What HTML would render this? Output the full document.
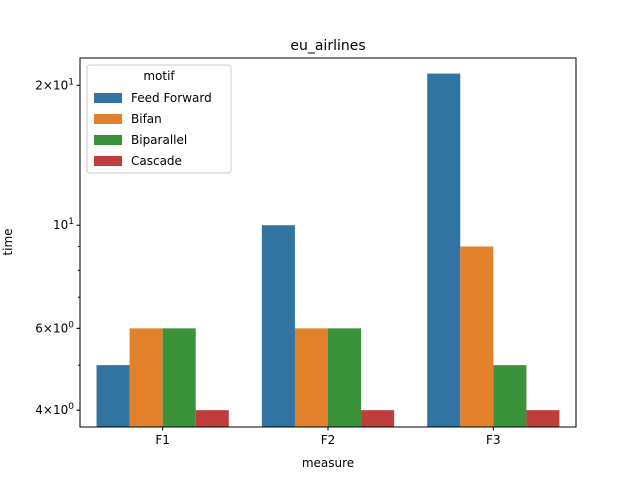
<!DOCTYPE html>
<html><head><meta charset="utf-8"><style>
body{margin:0;background:#fff}
text{font-family:"DejaVu Sans","Liberation Sans",sans-serif;fill:#000}
</style></head><body>
<svg id="chart" width="640" height="480" xmlns="http://www.w3.org/2000/svg">
<rect width="640" height="480" fill="#fff"/>
<text x="328" y="50" font-size="14" text-anchor="middle">eu_airlines</text>
<g id="bars"></g>
<g id="axes"></g>
<text x="328" y="467" font-size="12" text-anchor="middle">measure</text>
<text x="0" y="0" font-size="12" text-anchor="middle" transform="translate(12,242) rotate(-90)">time</text>
<g>
<rect x="87" y="65" width="144" height="108" rx="3" fill="#fff" fill-opacity="0.8" stroke="#ccc"/>
<text x="159" y="80" font-size="12" text-anchor="middle">motif</text>
<g id="legend-items"></g>
</g>
</svg>
<script>
const categories=["F1","F2","F3"];
const seriesNames=["Feed Forward","Bifan","Biparallel","Cascade"];
const feedForward=[5,10,21.2];
const bifan=[6,6,9];
const biparallel=[6,6,5];
const cascade=[4,4,4];
const yTickValues=[4,6,10,20];
const yTickBase=["4\u00d710","6\u00d710","10","2\u00d710"];
const yTickExp=["0","0","1","1"];
const yMinorValues=[4,5,6,7,8,9,20];
const colors=["#3274a1","#e1812c","#3a923a","#c03d3e"];
const series=[feedForward,bifan,biparallel,cascade];
const L=80,R=576,T=58,B=427,yMin=3.68,yMax=22.9;
const NS="http://www.w3.org/2000/svg";
function y(v){return B-(Math.log10(v)-Math.log10(yMin))/(Math.log10(yMax)-Math.log10(yMin))*(B-T);}
const band=(R-L)/categories.length;
function xc(i){return L+band*(i+0.5);}
function mk(tag,attrs,parent){const e=document.createElementNS(NS,tag);for(const k in attrs)e.setAttribute(k,attrs[k]);parent.appendChild(e);return e;}
const bars=document.getElementById('bars');
const bw=band*0.8/series.length;
series.forEach((s,si)=>{s.forEach((v,ci)=>{
 const x0=xc(ci)-band*0.4+si*bw;
 const r=mk('rect',{x:x0,y:y(v),width:bw,height:B-y(v),fill:colors[si]},bars);
 
 
});});
const ax=document.getElementById('axes');
mk('rect',{x:L,y:T,width:R-L,height:B-T,fill:'none',stroke:'#000','stroke-width':1},ax);
categories.forEach((c,i)=>{
 mk('line',{x1:xc(i),x2:xc(i),y1:B,y2:B+3.5,stroke:'#000'},ax);
 const t=mk('text',{x:xc(i),y:B+17,'font-size':12,'text-anchor':'middle'},ax);t.textContent=c;
 
 
});
yMinorValues.forEach(v=>{mk('line',{x1:L-2,x2:L,y1:y(v),y2:y(v),stroke:'#000'},ax);});
yTickValues.forEach((v,i)=>{
 mk('line',{x1:L-3.5,x2:L,y1:y(v),y2:y(v),stroke:'#000'},ax);
 const t=mk('text',{x:L-6,y:y(v)+4,'font-size':12,'text-anchor':'end'},ax);
 
 
 const a=document.createElementNS(NS,'tspan');a.textContent=yTickBase[i];t.appendChild(a);
 const b=document.createElementNS(NS,'tspan');b.setAttribute('font-size','9');b.setAttribute('dy','-5');b.textContent=yTickExp[i];t.appendChild(b);
});
const lg=document.getElementById('legend-items');
seriesNames.forEach((n,i)=>{
 const yy=97+i*21;
 const g=mk('g',{},lg);
 
 
 mk('rect',{x:94,y:yy-4,width:28,height:10,fill:colors[i]},g);
 const t=mk('text',{x:131,y:yy+5,'font-size':12},g);t.textContent=n;
});
</script>
</body></html>
